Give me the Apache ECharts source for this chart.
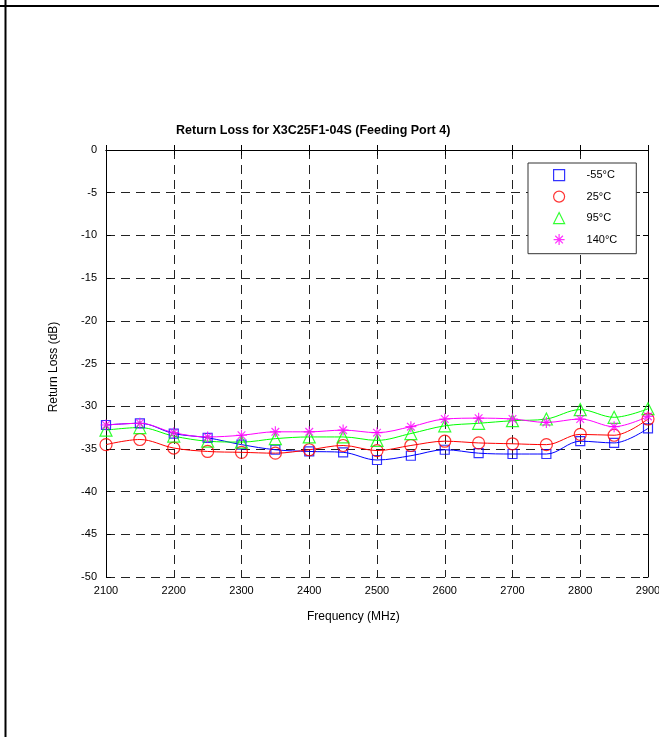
<!DOCTYPE html>
<html>
<head>
<meta charset="utf-8">
<script src="https://cdn.jsdelivr.net/npm/echarts@6/dist/echarts.min.js"></script>
<style>
  html, body { margin: 0; padding: 0; background: #fff; }
  #chart { width: 659px; height: 737px; }
</style>
</head>
<body>
<div id="chart"></div>
<script>
// frequency points (MHz), one marker every 50 MHz
const freqs = [2100, 2150, 2200, 2250, 2300, 2350, 2400, 2450, 2500,
  2550, 2600, 2650, 2700, 2750, 2800, 2850, 2900];

// return loss (dB)
const lossM55 = [-32.2, -32.0, -33.2, -33.7, -34.5, -35.1, -35.3, -35.4, -36.3,
  -35.8, -35.1, -35.5, -35.6, -35.6, -34.1, -34.3, -32.6];
const loss25 = [-34.5, -33.9, -34.9, -35.3, -35.4, -35.5, -35.1, -34.6, -35.2,
  -34.6, -34.1, -34.3, -34.4, -34.5, -33.3, -33.4, -31.5];
const loss95 = [-32.8, -32.5, -33.5, -34.1, -34.2, -33.8, -33.6, -33.6, -34.0,
  -33.2, -32.3, -32.0, -31.7, -31.5, -30.4, -31.3, -30.3];
const loss140 = [-32.2, -32.0, -33.1, -33.6, -33.4, -33.0, -33.0, -32.8, -33.1,
  -32.4, -31.5, -31.4, -31.5, -31.9, -31.5, -32.4, -31.2];

const seriesNames = ['-55°C', '25°C', '95°C', '140°C'];
const seriesColors = ['#0000ff', '#ff0000', '#00ff00', '#ff00ff'];
const seriesData = [lossM55, loss25, loss95, loss140];
const symbols = ['rect', 'circle', 'triangle',
  'path://M5,0L5,10M0,5L10,5M1.5,1.5L8.5,8.5M1.5,8.5L8.5,1.5'];
const symbolSizes = [9, 12, 12, 11];

const font = 'Liberation Sans, Arial, sans-serif';

const chart = echarts.init(document.getElementById('chart'));

const pairs = (vals) => freqs.map((f, i) => [f, vals[i]]);

const series = [];
seriesData.forEach((vals, k) => {
  series.push({
    name: seriesNames[k] + ' line',
    type: 'line',
    data: pairs(vals),
    smooth: 0.35,
    showSymbol: false,
    lineStyle: { color: seriesColors[k], width: 1 },
    z: 2
  });
});
seriesData.forEach((vals, k) => {
  series.push({
    name: seriesNames[k],
    type: 'scatter',
    data: pairs(vals),
    symbol: symbols[k],
    symbolSize: symbolSizes[k],
    itemStyle: { color: 'rgba(0,0,0,0)', borderColor: seriesColors[k], borderWidth: 1.2 },
    z: 3
  });
});

const baseAxis = {
  axisLine: { show: true, lineStyle: { color: '#000', width: 1 } },
  axisTick: { show: true, inside: true, length: 5, lineStyle: { color: '#000' } },
  axisLabel: { color: '#000', fontFamily: font, fontSize: 11 }
};

chart.setOption({
  animation: false,
  backgroundColor: '#fff',
  grid: { left: 106, top: 150, right: 11, bottom: 160, containLabel: false, outerBoundsMode: 'none' },
  xAxis: [
    Object.assign({}, baseAxis, {
      type: 'value', min: 2100, max: 2900, interval: 100,
      axisLabel: { color: '#000', fontFamily: font, fontSize: 11, margin: 8,
        formatter: (v) => String(v) },
      splitLine: { show: true, lineStyle: { color: '#222', type: [9, 6], width: 1 } }
    }),
    Object.assign({}, baseAxis, {
      type: 'value', min: 2100, max: 2900, interval: 100, position: 'top',
      axisLabel: { show: false }, splitLine: { show: false }
    })
  ],
  yAxis: [
    Object.assign({}, baseAxis, {
      type: 'value', min: -50, max: 0, interval: 5,
      axisLabel: { color: '#000', fontFamily: font, fontSize: 11, margin: 9 },
      splitLine: { show: true, lineStyle: { color: '#222', type: [9, 6], width: 1 } }
    }),
    Object.assign({}, baseAxis, {
      type: 'value', min: -50, max: 0, interval: 5, position: 'right',
      axisLabel: { show: false }, splitLine: { show: false }
    })
  ],
  legend: {
    orient: 'vertical',
    left: 528, top: 163,
    data: seriesNames.map((n, k) => ({
      name: n,
      icon: symbols[k],
      itemStyle: { color: 'rgba(0,0,0,0)', borderColor: seriesColors[k], borderWidth: 1.2 }
    })),
    itemWidth: 11, itemHeight: 11, itemGap: 9.3,
    padding: [6, 19, 8, 25],
    backgroundColor: '#fff',
    borderColor: '#333', borderWidth: 1,
    selectedMode: false,
    textStyle: { color: '#000', fontFamily: font, fontSize: 11, padding: [0, 0, 0, 17] }
  },
  graphic: [
    { type: 'line', shape: { x1: 0, y1: 6, x2: 659, y2: 6 }, style: { stroke: '#000', lineWidth: 2 } },
    { type: 'line', shape: { x1: 5.5, y1: 0, x2: 5.5, y2: 737 }, style: { stroke: '#000', lineWidth: 2 } },
    { type: 'text', left: 176, top: 124,
      style: { text: 'Return Loss for X3C25F1-04S (Feeding Port 4)', fill: '#000',
        font: 'bold 12.5px ' + font } },
    { type: 'text', left: 307, top: 611,
      style: { text: 'Frequency (MHz)', fill: '#000', font: '12px ' + font } },
    { type: 'text', x: 54, y: 367, rotation: Math.PI / 2,
      style: { text: 'Return Loss (dB)', fill: '#000', font: '12px ' + font,
        align: 'center', verticalAlign: 'middle' } }
  ],
  series: series
});
</script>
</body>
</html>
